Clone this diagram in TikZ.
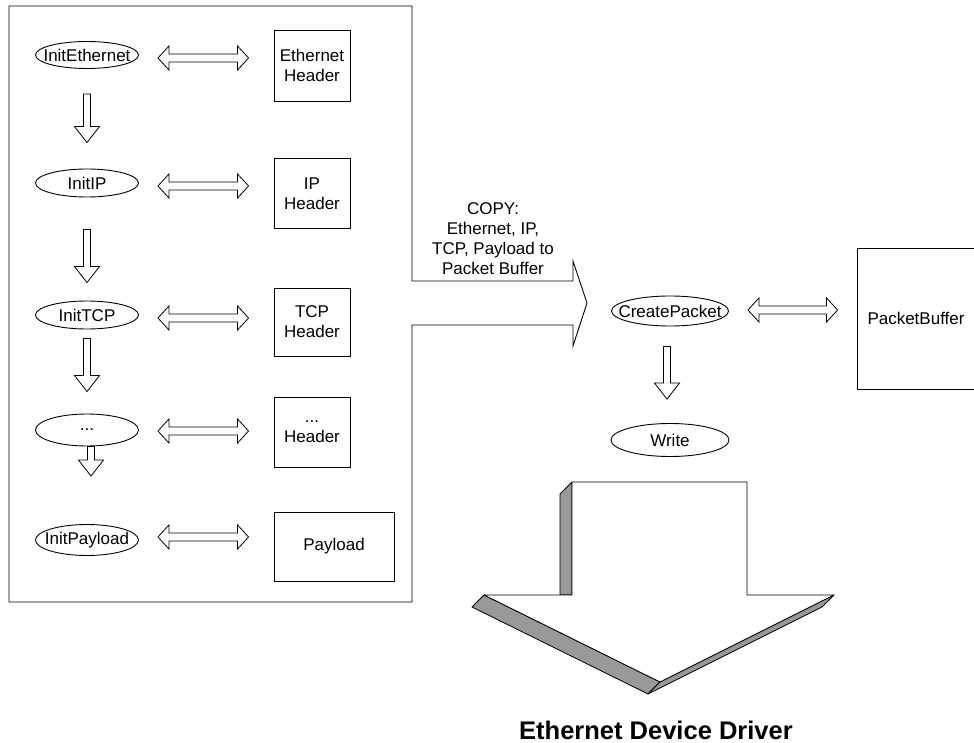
\documentclass[tikz,border=0pt]{standalone}
\usepackage{fontspec}
\setmainfont{Liberation Sans}
\usetikzlibrary{shapes.geometric,calc}
\definecolor{ladogris}{HTML}{999999}

\newcommand{\flechaabajo}[2]% inicio, punta
{let \p1=#1, \p2=#2 in
 (\x1-3.5pt,\y1) -- (\x1+3.5pt,\y1) -- (\x1+3.5pt,\y2+16pt) -- (\x1+12.5pt,\y2+16pt)
 -- (\x1,\y2) -- (\x1-12.5pt,\y2+16pt) -- (\x1-3.5pt,\y2+16pt) -- cycle
}
\newcommand{\flechadoble}[2]% extremo izq, extremo der
{let \p1=#1, \p2=#2 in
 (\x1,\y1) -- (\x1+11pt,\y1+12pt) -- (\x1+11pt,\y1+4pt) -- (\x2-11pt,\y1+4pt)
 -- (\x2-11pt,\y1+12pt) -- (\x2,\y1) -- (\x2-11pt,\y1-12pt) -- (\x2-11pt,\y1-4pt)
 -- (\x1+11pt,\y1-4pt) -- (\x1+11pt,\y1-12pt) -- cycle
}

\begin{document}
\begin{tikzpicture}[x=1pt, y=-1pt, line width=0.9pt,
		font=\fontsize{17}{20}\selectfont,
		proceso/.style={ellipse, draw, inner xsep=-20pt, inner ysep=0pt, minimum width=103, minimum height=28},
		cabecera/.style={rectangle, draw, align=center, inner sep=0pt, minimum width=76, minimum height=70},
		flecha/.style={draw, fill=white, line width=0.8pt},
		lado/.style={draw, fill=ladogris, line width=0.8pt, line join=round}]
		\useasboundingbox (0,0) rectangle (974,743);
		%marco y flecha de copia
		\draw (9,6) -- (412,6) -- (412,281) -- (573,281) -- (573,261) -- (587,303) -- (573,346)
			-- (573,325) -- (412,325) -- (412,602) -- (9,602) -- cycle;
		\node[align=center] (copia) at (493,239) {COPY:\\Ethernet, IP,\\TCP, Payload to\\Packet Buffer};
		
		\node[proceso, minimum height=27] (ie) at (87,55) {InitEthernet};
		\node[proceso] (iip) at (87,183) {InitIP};
		\node[proceso] (itcp) at (87,315) {InitTCP};
		\node[proceso, minimum height=32] (ipun) at (87,430) {...};
		\node[proceso, minimum height=31] (ipay) at (87,540) {InitPayload};
		
		\node[cabecera, minimum height=71] (heth) at (312,65.5) {Ethernet\\Header};
		\node[cabecera] (hip) at (312,193.5) {IP\\Header};
		\node[cabecera, minimum height=68] (htcp) at (312,322) {TCP\\Header};
		\node[cabecera] (hpun) at (312,432) {...\\Header};
		\node[cabecera, minimum width=120, minimum height=69] (hpay) at (334,546.5) {Payload};
		
		\draw[flecha] \flechaabajo{($(ie.south)+(0,25)$)}{($(iip.north)+(0,-26)$)};
		\draw[flecha] \flechaabajo{($(iip.south)+(0,32)$)}{($(itcp.north)+(0,-18)$)};
		\draw[flecha] \flechaabajo{($(itcp.south)+(0,9)$)}{($(ipun.north)+(0,-22)$)};
		\draw[flecha] \flechaabajo{($(ipun.south)+(4,0)$)}{($(ipay.north)+(0,-48)$)};
		
		\draw[flecha] \flechadoble{($(ie.east)+(19,3)$)}{($(heth.west)+(-25,0)$)};
		\draw[flecha] \flechadoble{($(iip.east)+(19,3)$)}{($(hip.west)+(-25,0)$)};
		\draw[flecha] \flechadoble{($(itcp.east)+(19,3)$)}{($(htcp.west)+(-25,0)$)};
		\draw[flecha] \flechadoble{($(ipun.east)+(19,1)$)}{($(hpun.west)+(-25,0)$)};
		\draw[flecha] \flechadoble{($(ipay.east)+(19,-3)$)}{($(hpay.west)+(-25,0)$)};
		
		\node[proceso, minimum width=117, minimum height=30] (cp) at (670,311) {CreatePacket};
		\node[proceso, minimum width=118, minimum height=33] (wr) at (670,440) {Write};
		\node[rectangle, draw, minimum width=118, minimum height=141] (pb) at (916,318.5) {PacketBuffer};
		\draw[flecha] \flechaabajo{($(cp.south)+(-3,20)$)}{($(wr.north)+(0,-24)$)};
		\draw[flecha] \flechadoble{($(cp.east)+(19,-1)$)}{($(pb.west)+(-19,0)$)};
		
		%flecha grande en 3D
		\draw[lado] (572,482) -- (560,494) -- (560,595) -- (572,595) -- cycle;
		\draw[lado] (484,595) -- (472,607) -- (648,694) -- (660,682) -- cycle;
		\draw[lado] (834,595) -- (822,607) -- (648,694) -- (660,682) -- cycle;
		\draw[flecha, line join=round] (572,482) -- (747,482) -- (747,595) -- (834,595) -- (660,682)
			-- (484,595) -- (572,595) -- cycle;
		\node[font=\bfseries\fontsize{25.5}{30}\selectfont] (driver) at (656,730) {Ethernet Device Driver};
	\end{tikzpicture}
\end{document}
